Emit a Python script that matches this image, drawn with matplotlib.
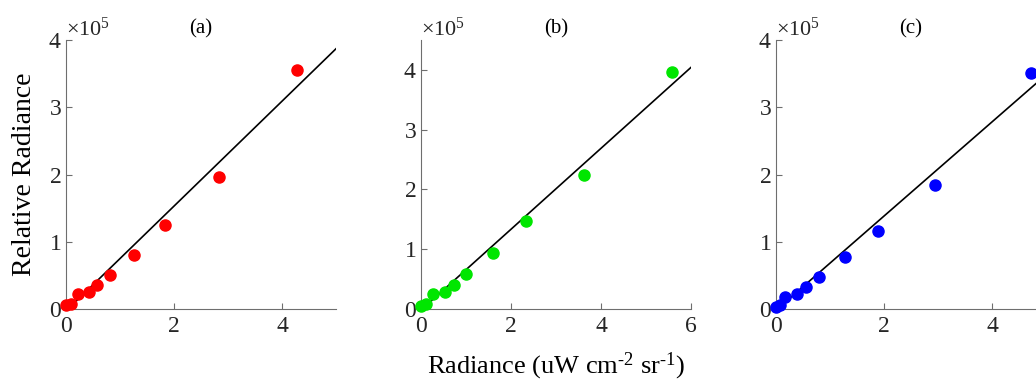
import numpy as np
import matplotlib
matplotlib.use("Agg")
import matplotlib.pyplot as plt
from matplotlib.ticker import ScalarFormatter

plt.rcParams["font.family"] = ["Liberation Serif", "DejaVu Serif"]
plt.rcParams["mathtext.fontset"] = "custom"
plt.rcParams["mathtext.rm"] = "Liberation Serif"
plt.rcParams["mathtext.it"] = "Liberation Serif:italic"

# --- data ---
x_a = [0.0, 0.1, 0.23, 0.43, 0.57, 0.82, 1.26, 1.83, 2.83, 4.27]
y_a = [6000, 7500, 22500, 26000, 36000, 50500, 80500, 125000, 196000, 356000]
fit_a = (0.78e5, -0.03e5)     # slope, intercept
xfit_a = [0.05, 5.0]

x_b = [0.0, 0.12, 0.26, 0.53, 0.73, 1.0, 1.61, 2.33, 3.62, 5.58]
y_b = [5000, 8000, 24500, 29000, 40000, 59000, 94000, 148000, 224000, 396000]
fit_b = (0.677e5, -0.02e5)
xfit_b = [0.06, 6.0]

x_c = [0.0, 0.07, 0.17, 0.38, 0.55, 0.8, 1.28, 1.88, 2.94, 4.72]
y_c = [2500, 6000, 18500, 22500, 32500, 47000, 77000, 116500, 185000, 351000]
fit_c = (0.70e5, -0.018e5)
xfit_c = [0.04, 5.0]

panels = [
    ("(a)", x_a, y_a, fit_a, xfit_a, "#ff0000", (0, 5), 4e5, [0, 2, 4]),
    ("(b)", x_b, y_b, fit_b, xfit_b, "#00e600", (0, 6), 4.5e5, [0, 2, 4, 6]),
    ("(c)", x_c, y_c, fit_c, xfit_c, "#0000ff", (0, 5), 4e5, [0, 2, 4]),
]

fig = plt.figure(figsize=(10.36, 3.83), dpi=100)
lefts = [66, 421, 776]
axes = []
for (lab, xs, ys, fit, xf, col, xl, ytop, xt), L in zip(panels, lefts):
    ax = fig.add_axes([L / 1036, (383 - 309) / 383, 270 / 1036, 269 / 383])
    ax.plot(xs, ys, "o", color=col, ms=8, mec=col, zorder=3, clip_on=False)
    xf = np.array(xf)
    ax.plot(xf, fit[0] * xf + fit[1], color="black", lw=1.2, zorder=2)
    ax.set_xlim(*xl)
    ax.set_ylim(0, ytop)
    ax.set_xticks(xt)
    ax.set_yticks([0, 1e5, 2e5, 3e5, 4e5])
    fmt = ScalarFormatter(useMathText=True)
    fmt.set_powerlimits((0, 0))
    ax.yaxis.set_major_formatter(fmt)
    ax.yaxis.get_offset_text().set_fontsize(16)
    ax.yaxis.get_offset_text().set_color("#262626")
    for s in ["top", "right"]:
        ax.spines[s].set_visible(False)
    for s in ["left", "bottom"]:
        ax.spines[s].set_color("#6e6e6e")
        ax.spines[s].set_linewidth(0.8)
    ax.tick_params(direction="in", length=4, width=0.8, color="#6e6e6e",
                   labelsize=17, labelcolor="#262626")
    ax.tick_params(axis="x", pad=5)
    ax.tick_params(axis="y", pad=3)
    ax.set_title(lab, fontsize=15, pad=5, color="black")
    axes.append(ax)

axes[0].set_ylabel("Relative Radiance", fontsize=20, labelpad=8)
axes[1].set_xlabel(r"Radiance (uW cm$^{\text{-2}}$ sr$^{\text{-1}}$)", fontsize=19, labelpad=10)

fig.savefig("out.png", dpi=100)
